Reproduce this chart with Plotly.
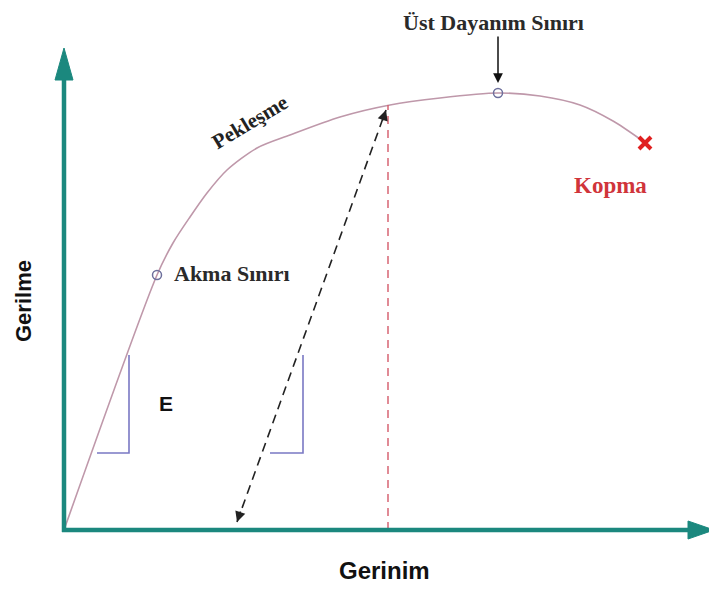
import plotly.graph_objects as go

# Stress-strain curve (schematic units: strain, stress)
curve_strain = [0, 93, 109, 126, 143, 163, 193, 226, 276, 326, 376, 434, 476, 516, 549, 576]
curve_stress = [0, 255, 287, 313, 337, 360, 382, 395, 413, 425, 432, 437, 434, 425, 409, 391]

yield_pt = (93, 255)        # Akma Sınırı
uts_pt = (434, 437)         # Üst Dayanım Sınırı
fracture_pt = (581, 387)    # Kopma

unload_start = (322, 420)   # dashed unloading line (top)
unload_end = (173, 8)       # dashed unloading line (bottom)
uts_strain_line = 324       # vertical red dashed line

tri1_x = [33, 65, 65]
tri1_y = [77, 77, 175]
tri2_x = [206, 239, 239]
tri2_y = [77, 77, 175]

labels = {
    "uts": "Üst Dayanım Sınırı",
    "yield": "Akma Sınırı",
    "hard": "Pekleşme",
    "frac": "Kopma",
    "E": "E",
    "ylab": "Gerilme",
    "xlab": "Gerinim",
}

TEAL = "#1b887e"
CURVE = "#bf98aa"
fig = go.Figure()

# curve
fig.add_trace(go.Scatter(x=curve_strain, y=curve_stress, mode="lines",
                         line=dict(color=CURVE, width=1.6, shape="spline", smoothing=0.8),
                         hoverinfo="skip"))
# red dashed vertical
fig.add_trace(go.Scatter(x=[uts_strain_line, uts_strain_line], y=[0, 425], mode="lines",
                         line=dict(color="#d45a6a", width=1.4, dash="8px,6px"), hoverinfo="skip"))
# black dashed unloading line
fig.add_trace(go.Scatter(x=[unload_end[0], unload_start[0]], y=[unload_end[1], unload_start[1]],
                         mode="lines", line=dict(color="#222222", width=1.6, dash="9px,6px"),
                         hoverinfo="skip"))
# triangles
for tx, ty in [(tri1_x, tri1_y), (tri2_x, tri2_y)]:
    fig.add_trace(go.Scatter(x=tx, y=ty, mode="lines",
                             line=dict(color="#7a78c4", width=1.6), hoverinfo="skip"))
# axes lines
fig.add_trace(go.Scatter(x=[0, 0], y=[-2, 455], mode="lines", line=dict(color=TEAL, width=4.5),
                         hoverinfo="skip"))
fig.add_trace(go.Scatter(x=[-2, 628], y=[0, 0], mode="lines", line=dict(color=TEAL, width=4.5),
                         hoverinfo="skip"))
# axis arrowheads
fig.add_trace(go.Scatter(x=[-9, 0, 9, -9], y=[450, 482, 450, 450], mode="lines", fill="toself",
                         fillcolor=TEAL, line=dict(color=TEAL, width=1), hoverinfo="skip"))
fig.add_trace(go.Scatter(x=[624, 650, 624, 624], y=[9, 0, -9, 9], mode="lines", fill="toself",
                         fillcolor=TEAL, line=dict(color=TEAL, width=1), hoverinfo="skip"))
# markers
fig.add_trace(go.Scatter(x=[yield_pt[0], uts_pt[0]], y=[yield_pt[1], uts_pt[1]], mode="markers",
                         marker=dict(symbol="circle-open", size=9, color="#6d6f9c",
                                     line=dict(width=1.5, color="#6d6f9c")), hoverinfo="skip"))
fig.add_trace(go.Scatter(x=[fracture_pt[0]], y=[fracture_pt[1]], mode="markers",
                         marker=dict(symbol="x-thin", size=12, color="#e02020",
                                     line=dict(width=4, color="#e02020")), hoverinfo="skip"))

serif = "Liberation Serif"
sans = "Liberation Sans"
ann = []
# dashed line arrowheads
ann.append(dict(x=unload_start[0], y=unload_start[1], ax=unload_start[0] - 4, ay=unload_start[1] - 12,
                xref="x", yref="y", axref="x", ayref="y", showarrow=True, arrowhead=2,
                arrowsize=1.3, arrowwidth=1.6, arrowcolor="#222", text=""))
ann.append(dict(x=unload_end[0], y=unload_end[1], ax=unload_end[0] + 4, ay=unload_end[1] + 12,
                xref="x", yref="y", axref="x", ayref="y", showarrow=True, arrowhead=2,
                arrowsize=1.3, arrowwidth=1.6, arrowcolor="#222", text=""))
# Üst dayanım arrow
ann.append(dict(x=uts_pt[0], y=uts_pt[1] + 10, ax=uts_pt[0], ay=uts_pt[1] + 58,
                xref="x", yref="y", axref="x", ayref="y", showarrow=True, arrowhead=2,
                arrowsize=1.3, arrowwidth=1.5, arrowcolor="#111", text=""))
ann.append(dict(x=429, y=508, text="<b>" + labels["uts"] + "</b>", showarrow=False,
                font=dict(family=serif, size=22, color="#2a2a2a"), xref="x", yref="y"))
ann.append(dict(x=yield_pt[0] + 15, y=yield_pt[1] + 2, text="<b>" + labels["yield"] + "</b>",
                showarrow=False, xanchor="left",
                font=dict(family=serif, size=22, color="#2a2a2a"), xref="x", yref="y"))
ann.append(dict(x=186, y=408, text="<b>" + labels["hard"] + "</b>", showarrow=False, textangle=-31,
                font=dict(family=serif, size=21, color="#222"), xref="x", yref="y"))
ann.append(dict(x=546, y=345, text="<b>" + labels["frac"] + "</b>", showarrow=False,
                font=dict(family=serif, size=23, color="#d0343a"), xref="x", yref="y"))
ann.append(dict(x=102, y=127, text="<b>" + labels["E"] + "</b>", showarrow=False,
                font=dict(family=sans, size=21, color="#111"), xref="x", yref="y"))
ann.append(dict(x=-41, y=229, text="<b>" + labels["ylab"] + "</b>", showarrow=False, textangle=-90,
                font=dict(family=sans, size=22, color="#111"), xref="x", yref="y"))
ann.append(dict(x=320, y=-40, text="<b>" + labels["xlab"] + "</b>", showarrow=False,
                font=dict(family=sans, size=24, color="#111"), xref="x", yref="y"))

fig.update_layout(
    width=717, height=590, autosize=False,
    margin=dict(l=0, r=0, t=0, b=0),
    paper_bgcolor="white", plot_bgcolor="white",
    showlegend=False,
    xaxis=dict(range=[-56, 661], visible=False, fixedrange=True),
    yaxis=dict(range=[-68, 522], visible=False, fixedrange=True),
    annotations=ann,
)

fig.write_html("out.html")
